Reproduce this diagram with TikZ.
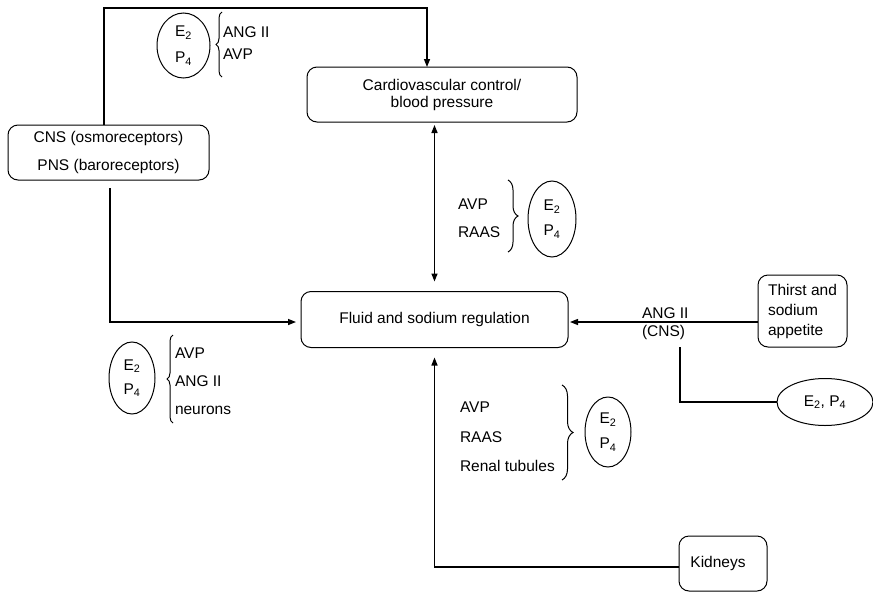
\documentclass[tikz,border=0pt]{standalone}
\usepackage{fontspec}
\setmainfont{Liberation Sans}
\usetikzlibrary{arrows.meta,shapes.geometric,decorations.pathreplacing}
\newcommand\fsz[1]{\fontsize{15.5}{#1}\selectfont}
\newcommand\sub[1]{\textsubscript{#1}}
\begin{document}
\begin{tikzpicture}[x=1pt,y=-1pt,
  every node/.style={inner sep=0pt, outer sep=0pt},
  box/.style={draw, line width=1pt, rounded corners=10pt, align=center},
  oval/.style={draw, line width=1pt, ellipse, align=center},
  txt/.style={align=left, anchor=west},
  conn/.style={line width=1.4pt},
  arr/.style={conn, -{Triangle[length=8pt,width=6pt]}},
  darr/.style={conn, {Triangle[length=8pt,width=6pt]}-{Triangle[length=8pt,width=6pt]}},
  brace/.style={decorate, decoration={brace, amplitude=#1}, line width=1pt}]
\useasboundingbox (0,0) rectangle (873,592);

% boxes
\node[box, minimum width=270pt, minimum height=55pt, font=\fsz{17}] (cv) at (442,94.5) {Cardiovascular control/\\blood pressure};
\node[box, minimum width=201pt, minimum height=55pt, font=\fsz{28}] (cns) at (108.5,152.5) {CNS (osmoreceptors)\\PNS (baroreceptors)};
\node[box, minimum width=267pt, minimum height=56pt, font=\fsz{18}] (fluid) at (434.5,319.5) {Fluid and sodium regulation};
\node[box, minimum width=89pt, minimum height=72pt, font=\fsz{20}, align=left] (thirst) at (802.5,311) {Thirst and\\sodium\\appetite};
\node[box, minimum width=88pt, minimum height=55pt, font=\fsz{18}] (kid) at (723,563.5) {Kidneys\hspace{10pt}};

% ellipses
\node[oval, minimum width=53pt, minimum height=65pt, font=\fsz{26}] (e1) at (183.5,45.5) {E\sub{2}\\P\sub{4}};
\node[oval, minimum width=48pt, minimum height=76pt, font=\fsz{25}] (e2) at (552,219) {E\sub{2}\\P\sub{4}};
\node[oval, minimum width=46pt, minimum height=72pt, font=\fsz{24}] (e3) at (132,378) {E\sub{2}\\P\sub{4}};
\node[oval, minimum width=46pt, minimum height=70pt, font=\fsz{25}] (e4) at (608,432) {E\sub{2}\\P\sub{4}};
\node[oval, minimum width=96pt, minimum height=47pt, font=\fsz{18}] (e5) at (825,402) {E\sub{2}, P\sub{4}};

% lists
\node[txt, font=\fsz{22}] (l1) at (223,43) {ANG II\\AVP};
\node[txt, font=\fsz{28}] (l2) at (458,218) {AVP\\RAAS};
\node[txt, font=\fsz{28}] (l3) at (175,381) {AVP\\ANG II\\neurons};
\node[txt, font=\fsz{29.5}] (l4) at (460,437) {AVP\\RAAS\\Renal tubules};
\node[txt, font=\fsz{18}] (lab) at (642,324) {ANG II\\(CNS)};

% braces
\draw[brace=6pt] (222,77) -- (222,12);
\draw[brace=10pt] (508,180) -- (508,252);
\draw[brace=6pt] (173,423) -- (173,335);
\draw[brace=11pt] (562,385) -- (562,480);

% connectors
\coordinate (tl) at (104,8);
\coordinate (bl) at (110,188);
\coordinate (fy) at (0,322);
\coordinate (ky) at (0,567);
\coordinate (kj) at (680,347);
\draw[arr] (cns.north -| tl) -- (tl) -| ([xshift=-15pt]cv.north);
\draw[arr, shorten >=5pt] (bl) |- (fluid.west |- fy);
\draw[arr, shorten >=2pt] (thirst.west |- fy) -- (fluid.east |- fy);
\draw[darr, shorten <=3pt, shorten >=10pt] (cv.south -| fluid.north) -- (fluid.north);
\draw[conn] (kj) |- (e5.west);
\draw[arr, shorten >=10pt] (kid.west |- ky) -| (fluid.south);
\end{tikzpicture}
\end{document}
